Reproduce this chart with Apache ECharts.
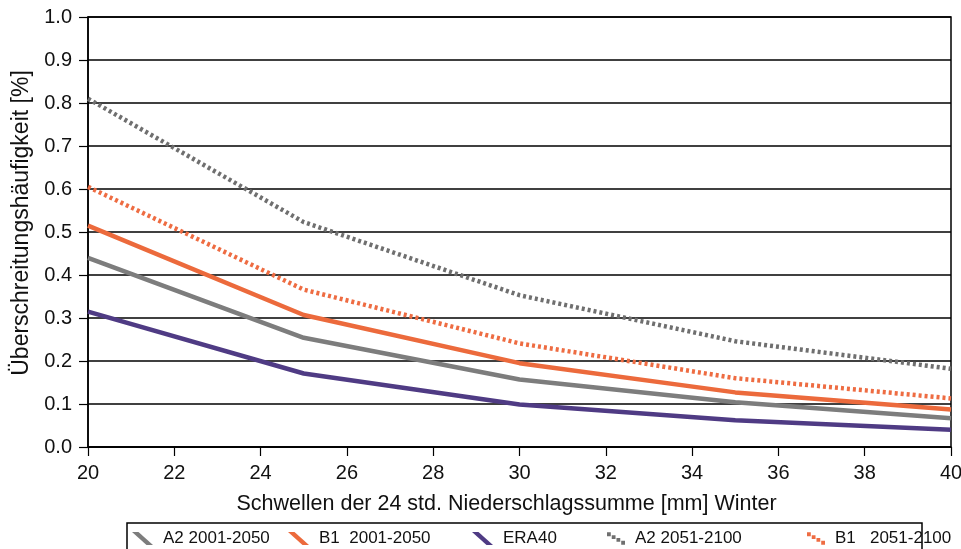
<!DOCTYPE html>
<html>
<head>
<meta charset="utf-8">
<script src="https://cdn.jsdelivr.net/npm/echarts@6/dist/echarts.min.js"></script>
<style>
html,body{margin:0;padding:0;background:#fff;}
#chart{width:961px;height:549px;}
</style>
</head>
<body>
<div id="chart"></div>
<script>
const thresholds = [20, 25, 30, 35, 40];
const a2_2001_2050 = [0.44, 0.254, 0.157, 0.104, 0.067];
const b1_2001_2050 = [0.515, 0.307, 0.195, 0.127, 0.087];
const era40 = [0.315, 0.171, 0.099, 0.062, 0.040];
const a2_2051_2100 = [0.81, 0.523, 0.353, 0.246, 0.182];
const b1_2051_2100 = [0.605, 0.366, 0.241, 0.160, 0.113];
const seriesNames = ['A2 2001-2050', 'B1  2001-2050', 'ERA40', 'A2 2051-2100', 'B1   2051-2100'];
const seriesColors = ['#7d7d7d', '#ec6a3c', '#4f3b84', '#6f6f6f', '#ee6c42'];
const xAxisTitle = 'Schwellen der 24 std. Niederschlagssumme [mm] Winter';
const yAxisTitle = 'Überschreitungshäufigkeit [%]';

const FONT = 'Liberation Sans, Arial, sans-serif';
const solidIcon = 'path://M0,0 L6.5,0 L21,13 L14.5,13 Z';
const dotIcon = 'path://M0,0h4v4h-4Z M5,3h4v4h-4Z M10,6h4v4h-4Z M15,9h4v4h-4Z';

function pairs(vals) { return thresholds.map((t, i) => [t, vals[i]]); }

function mkSeries(name, vals, color, dotted) {
  return {
    name: name,
    type: 'line',
    data: pairs(vals),
    showSymbol: false,
    symbol: 'none',
    smooth: false,
    color: color,
    lineStyle: { color: color, width: 4.5, type: dotted ? [3, 3] : 'solid', cap: 'butt', join: 'round' },
    emphasis: { disabled: true }
  };
}

function mkLegend(name, color, left, icon, w, h) {
  return {
    data: [name],
    left: left,
    top: 530,
    icon: icon,
    itemWidth: w,
    itemHeight: h,
    itemGap: 0,
    padding: 0,
    selectedMode: false,
    itemStyle: { color: color, borderWidth: 0 },
    lineStyle: { width: 0 },
    textStyle: { fontFamily: FONT, fontSize: 17, color: '#111', padding: [0, 0, 0, 5] }
  };
}

const chart = echarts.init(document.getElementById('chart'), null, { renderer: 'canvas' });
chart.setOption({
  backgroundColor: '#fff',
  animation: false,
  grid: { left: 88, right: 10, top: 17, bottom: 102, containLabel: false, outerBoundsMode: 'none', show: true, borderColor: '#000', borderWidth: 1.5, backgroundColor: 'transparent' },
  xAxis: {
    type: 'value', min: 20, max: 40, interval: 2,
    name: xAxisTitle, nameLocation: 'middle', nameGap: 46,
    nameTextStyle: { fontFamily: FONT, fontSize: 21.5, color: '#111', padding: [0, 26, 0, 0] },
    axisLine: { show: true, lineStyle: { color: '#000', width: 1.5 } },
    axisTick: { show: true, inside: false, length: 9, lineStyle: { color: '#000', width: 1.2 } },
    axisLabel: { fontFamily: FONT, fontSize: 20, color: '#111', margin: 16 },
    splitLine: { show: false }
  },
  yAxis: {
    type: 'value', min: 0, max: 1, interval: 0.1,
    name: yAxisTitle, nameLocation: 'middle', nameGap: 55,
    nameTextStyle: { fontFamily: FONT, fontSize: 23, color: '#111', padding: [0, 0, 0, 18] },
    axisLine: { show: true, lineStyle: { color: '#000', width: 1.5 } },
    axisTick: { show: true, inside: false, length: 9, lineStyle: { color: '#000', width: 1.2 } },
    axisLabel: { fontFamily: FONT, fontSize: 20, color: '#111', margin: 16, formatter: v => v.toFixed(1) },
    splitLine: { show: true, lineStyle: { color: '#000', width: 1.5 } }
  },
  legend: [
    mkLegend(seriesNames[0], seriesColors[0], 132, solidIcon, 21, 13),
    mkLegend(seriesNames[1], seriesColors[1], 288, solidIcon, 21, 13),
    mkLegend(seriesNames[2], seriesColors[2], 472, solidIcon, 21, 13),
    mkLegend(seriesNames[3], seriesColors[3], 607, dotIcon, 18, 13),
    mkLegend(seriesNames[4], seriesColors[4], 807, dotIcon, 18, 13)
  ],
  graphic: [{
    type: 'rect', silent: true, z: -1,
    shape: { x: 127, y: 523, width: 795, height: 40 },
    style: { fill: 'none', stroke: '#000', lineWidth: 1.5 }
  }],
  series: [
    mkSeries(seriesNames[0], a2_2001_2050, seriesColors[0], false),
    mkSeries(seriesNames[1], b1_2001_2050, seriesColors[1], false),
    mkSeries(seriesNames[2], era40, seriesColors[2], false),
    mkSeries(seriesNames[3], a2_2051_2100, seriesColors[3], true),
    mkSeries(seriesNames[4], b1_2051_2100, seriesColors[4], true)
  ]
});
</script>
</body>
</html>
